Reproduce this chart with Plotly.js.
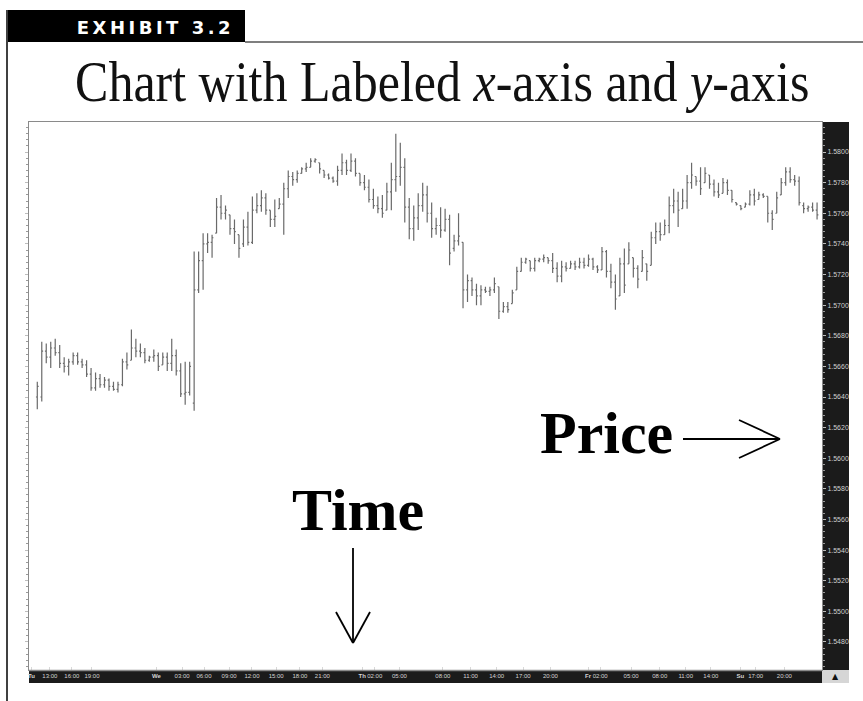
<!DOCTYPE html>
<html>
<head>
<meta charset="utf-8">
<script src="https://cdn.plot.ly/plotly-3.0.1.min.js"></script>
<style>
  html, body { margin: 0; padding: 0; background: #fff; }
  #chart { width: 863px; height: 701px; }
</style>
</head>
<body>
<div id="chart"></div>
<script>
// ---- data ----
const openPrices = [
  1.5640,1.5640,1.5670,1.5666,1.5672,1.5669,1.5662,1.5660,1.5663,1.5667,
  1.5663,1.5661,1.5655,1.5646,1.5652,1.5648,1.5651,1.5647,1.5645,1.5648,
  1.5663,1.5664,1.5672,1.5670,1.5669,1.5664,1.5666,1.5667,1.5661,1.5666,
  1.5662,1.5667,1.5657,1.5642,1.5643,1.5636,1.5710,1.5729,1.5740,1.5741,
  1.5747,1.5764,1.5760,1.5759,1.5750,1.5746,1.5740,1.5751,1.5741,1.5762,
  1.5765,1.5770,1.5762,1.5756,1.5763,1.5766,1.5776,1.5784,1.5782,1.5786,
  1.5789,1.5790,1.5794,1.5793,1.5788,1.5785,1.5783,1.5781,1.5788,1.5793,
  1.5788,1.5794,1.5786,1.5780,1.5777,1.5769,1.5765,1.5763,1.5762,1.5774,
  1.5782,1.5784,1.5790,1.5764,1.5750,1.5757,1.5765,1.5772,1.5760,1.5750,
  1.5752,1.5749,1.5756,1.5737,1.5742,1.5741,1.5710,1.5716,1.5710,1.5706,
  1.5710,1.5709,1.5710,1.5712,1.5696,1.5699,1.5701,1.5710,1.5722,1.5728,
  1.5729,1.5724,1.5729,1.5730,1.5731,1.5729,1.5724,1.5719,1.5725,1.5724,
  1.5727,1.5725,1.5728,1.5726,1.5730,1.5725,1.5723,1.5735,1.5722,1.5715,
  1.5706,1.5727,1.5727,1.5731,1.5724,1.5722,1.5727,1.5726,1.5744,1.5748,
  1.5746,1.5752,1.5765,1.5768,1.5763,1.5768,1.5780,1.5784,1.5781,1.5780,
  1.5785,1.5779,1.5774,1.5773,1.5780,1.5775,1.5767,1.5765,1.5764,1.5766,
  1.5772,1.5769,1.5772,1.5771,1.5760,1.5760,1.5772,1.5780,1.5787,1.5782,
  1.5781,1.5765,1.5763,1.5764,1.5762
];
const highPrices = [
  1.5650,1.5676,1.5675,1.5676,1.5678,1.5674,1.5666,1.5665,1.5669,1.5669,
  1.5665,1.5664,1.5659,1.5656,1.5655,1.5653,1.5652,1.5650,1.5650,1.5665,
  1.5669,1.5684,1.5678,1.5675,1.5672,1.5667,1.5671,1.5669,1.5669,1.5669,
  1.5678,1.5671,1.5662,1.5663,1.5663,1.5735,1.5735,1.5747,1.5747,1.5746,
  1.5770,1.5772,1.5765,1.5759,1.5756,1.5746,1.5756,1.5761,1.5771,1.5773,
  1.5775,1.5773,1.5762,1.5769,1.5770,1.5780,1.5788,1.5787,1.5788,1.5790,
  1.5793,1.5796,1.5796,1.5793,1.5788,1.5786,1.5784,1.5791,1.5799,1.5795,
  1.5799,1.5796,1.5786,1.5785,1.5782,1.5776,1.5771,1.5772,1.5780,1.5793,
  1.5812,1.5806,1.5796,1.5770,1.5765,1.5773,1.5780,1.5778,1.5767,1.5757,
  1.5764,1.5763,1.5759,1.5746,1.5760,1.5741,1.5720,1.5718,1.5714,1.5713,
  1.5712,1.5712,1.5718,1.5712,1.5702,1.5702,1.5710,1.5725,1.5731,1.5731,
  1.5729,1.5731,1.5731,1.5733,1.5731,1.5734,1.5728,1.5729,1.5728,1.5729,
  1.5729,1.5731,1.5731,1.5733,1.5731,1.5726,1.5738,1.5736,1.5727,1.5720,
  1.5731,1.5737,1.5741,1.5731,1.5726,1.5736,1.5727,1.5748,1.5754,1.5754,
  1.5756,1.5771,1.5776,1.5774,1.5776,1.5785,1.5793,1.5784,1.5790,1.5790,
  1.5785,1.5782,1.5780,1.5783,1.5782,1.5775,1.5767,1.5765,1.5767,1.5775,
  1.5776,1.5774,1.5773,1.5771,1.5762,1.5774,1.5783,1.5790,1.5790,1.5785,
  1.5784,1.5767,1.5765,1.5767,1.5767
];
const lowPrices = [
  1.5632,1.5637,1.5662,1.5659,1.5667,1.5659,1.5656,1.5654,1.5661,1.5661,
  1.5659,1.5653,1.5644,1.5644,1.5646,1.5646,1.5644,1.5644,1.5643,1.5647,
  1.5658,1.5664,1.5666,1.5666,1.5662,1.5663,1.5663,1.5657,1.5661,1.5657,
  1.5657,1.5654,1.5640,1.5635,1.5641,1.5631,1.5708,1.5710,1.5734,1.5731,
  1.5747,1.5756,1.5756,1.5746,1.5740,1.5731,1.5738,1.5739,1.5740,1.5760,
  1.5761,1.5759,1.5751,1.5751,1.5763,1.5746,1.5770,1.5778,1.5780,1.5786,
  1.5787,1.5790,1.5793,1.5786,1.5783,1.5782,1.5780,1.5778,1.5785,1.5785,
  1.5787,1.5784,1.5778,1.5775,1.5767,1.5763,1.5760,1.5757,1.5762,1.5762,
  1.5774,1.5778,1.5754,1.5743,1.5742,1.5749,1.5761,1.5754,1.5744,1.5746,
  1.5744,1.5748,1.5726,1.5735,1.5739,1.5698,1.5702,1.5706,1.5700,1.5700,
  1.5708,1.5706,1.5708,1.5691,1.5695,1.5695,1.5701,1.5710,1.5722,1.5727,
  1.5722,1.5722,1.5728,1.5728,1.5727,1.5721,1.5715,1.5715,1.5722,1.5724,
  1.5723,1.5724,1.5724,1.5725,1.5723,1.5721,1.5723,1.5718,1.5711,1.5697,
  1.5706,1.5708,1.5727,1.5718,1.5711,1.5722,1.5716,1.5726,1.5740,1.5742,
  1.5746,1.5747,1.5760,1.5751,1.5763,1.5763,1.5776,1.5778,1.5772,1.5780,
  1.5776,1.5771,1.5770,1.5773,1.5772,1.5767,1.5765,1.5762,1.5764,1.5765,
  1.5765,1.5769,1.5770,1.5754,1.5749,1.5760,1.5772,1.5778,1.5780,1.5778,
  1.5765,1.5760,1.5761,1.5761,1.5756
];
const closePrices = [
  1.5647,1.5670,1.5666,1.5672,1.5669,1.5662,1.5660,1.5663,1.5667,1.5663,
  1.5661,1.5655,1.5646,1.5652,1.5648,1.5651,1.5647,1.5645,1.5648,1.5663,
  1.5661,1.5672,1.5670,1.5669,1.5664,1.5666,1.5667,1.5660,1.5666,1.5662,
  1.5667,1.5657,1.5642,1.5643,1.5660,1.5710,1.5729,1.5740,1.5741,1.5744,
  1.5764,1.5760,1.5762,1.5750,1.5748,1.5737,1.5751,1.5741,1.5762,1.5765,
  1.5770,1.5762,1.5756,1.5758,1.5766,1.5776,1.5784,1.5782,1.5786,1.5789,
  1.5790,1.5794,1.5795,1.5789,1.5785,1.5783,1.5781,1.5788,1.5793,1.5788,
  1.5794,1.5786,1.5780,1.5777,1.5769,1.5765,1.5763,1.5760,1.5774,1.5782,
  1.5784,1.5790,1.5764,1.5750,1.5757,1.5765,1.5772,1.5760,1.5750,1.5752,
  1.5749,1.5756,1.5734,1.5742,1.5745,1.5710,1.5716,1.5710,1.5706,1.5710,
  1.5709,1.5710,1.5714,1.5696,1.5699,1.5697,1.5708,1.5722,1.5728,1.5730,
  1.5724,1.5729,1.5730,1.5731,1.5729,1.5724,1.5719,1.5725,1.5724,1.5727,
  1.5725,1.5728,1.5726,1.5730,1.5725,1.5723,1.5735,1.5722,1.5715,1.5704,
  1.5727,1.5713,1.5736,1.5724,1.5717,1.5731,1.5722,1.5744,1.5748,1.5746,
  1.5752,1.5765,1.5768,1.5762,1.5768,1.5780,1.5785,1.5781,1.5776,1.5786,
  1.5779,1.5774,1.5772,1.5780,1.5775,1.5769,1.5766,1.5763,1.5766,1.5772,
  1.5768,1.5772,1.5771,1.5760,1.5756,1.5770,1.5780,1.5787,1.5782,1.5781,
  1.5767,1.5763,1.5764,1.5762,1.5759
];
const xTickLabels = ["<b>Tu</b>","13:00","16:00","19:00","<b>We</b>","03:00","06:00","09:00","12:00","15:00","18:00","21:00",
  "<b>Th</b>","02:00","05:00","08:00","11:00","14:00","17:00","20:00","<b>Fr</b>","02:00","05:00","08:00","11:00","14:00",
  "<b>Su</b>","17:00","20:00"];
const xTickBars = [-1.3,2.8,7.7,12.2,26.6,32.3,37.2,42.8,47.9,53.3,58.6,63.6,
  72.5,75.3,80.8,90.5,96.7,102.5,108.4,114.5,122.9,125.6,132.5,138.9,144.7,150.3,
  156.9,160.3,166.7];
const chartTitle = "Chart with Labeled <i>x</i>-axis and <i>y</i>-axis";
const exhibitLabel = "EXHIBIT 3.2";
const priceLabel = "Price";
const timeLabel = "Time";

// ---- layout helpers: page pixels -> paper coordinates ----
const W = 863, H = 701;
const M = {l: 29, r: 863 - 822, t: 122, b: 701 - 670};
const PW = W - M.l - M.r, PH = H - M.t - M.b;
const px = x => (x - M.l) / PW;
const py = y => (H - M.b - y) / PH;

const barIndex = openPrices.map((_, i) => i);

const trace = {
  type: 'ohlc',
  x: barIndex,
  open: openPrices, high: highPrices, low: lowPrices, close: closePrices,
  increasing: {line: {color: '#6a6a6a', width: 1.2}},
  decreasing: {line: {color: '#6a6a6a', width: 1.2}},
  tickwidth: 0.3,
  hoverinfo: 'skip',
  showlegend: false
};

const line = (x0, y0, x1, y1, w, c) => ({
  type: 'line', xref: 'paper', yref: 'paper',
  x0: px(x0), y0: py(y0), x1: px(x1), y1: py(y1),
  line: {color: c || '#000', width: w || 2}
});
const rect = (x0, y0, x1, y1, fill, layer) => ({
  type: 'rect', xref: 'paper', yref: 'paper', layer: layer || 'below',
  x0: px(x0), y0: py(y0), x1: px(x1), y1: py(y1),
  fillcolor: fill, line: {width: 0}
});

const shapes = [
  rect(8, 10, 245, 42, '#000'),
  line(7, 10, 7, 701, 1.5),
  line(245, 42, 863, 42, 1.2),
  rect(822, 122, 849, 670, '#1b1b1b'),
  rect(29, 670, 822, 683, '#1b1b1b'),
  line(29, 670.5, 822, 670.5, 1.5, '#8a8a8a'),
  rect(822, 670, 849, 683, '#d6d6d6'),
  // Price arrow
  line(683, 439, 780, 439, 1.8),
  line(739, 420, 780, 439, 1.8),
  line(739, 458, 780, 439, 1.8),
  // Time arrow
  line(353, 548, 353, 643, 1.8),
  line(336, 612, 353, 643, 1.8),
  line(370, 612, 353, 643, 1.8)
];

const ann = (text, x, y, font, extra) => Object.assign({
  text, xref: 'paper', yref: 'paper', x: px(x), y: py(y),
  xanchor: 'center', yanchor: 'middle', showarrow: false, font
}, extra || {});

const annotations = [
  ann(exhibitLabel, 155, 27, {family: 'DejaVu Sans', size: 18, color: '#fff', weight: 'bold'}),
  ann(chartTitle, 442, 84, {family: 'Liberation Serif', size: 50, color: '#111'}),
  ann('<b>' + priceLabel + '</b>', 606, 433, {family: 'Liberation Serif', size: 60, color: '#000'}),
  ann('<b>' + timeLabel + '</b>', 358, 510, {family: 'Liberation Serif', size: 60, color: '#000'}),
  ann('▲', 835, 676.5, {family: 'DejaVu Sans', size: 8, color: '#111'})
];

const layout = {
  width: W, height: H,
  margin: M,
  paper_bgcolor: '#fff', plot_bgcolor: '#fff',
  showlegend: false,
  dragmode: false,
  xaxis: {
    range: [-1.85, 175.1],
    tickmode: 'array', tickvals: xTickBars, ticktext: xTickLabels,
    tickangle: 0,
    ticks: 'inside', ticklen: 3, tickcolor: '#d8d8d8', tickwidth: 1,
    tickfont: {family: 'Liberation Sans', size: 6, color: '#d4d4d4'},
    ticklabelstandoff: 0,
    showgrid: false, zeroline: false,
    showline: true, linecolor: '#8a8a8a', linewidth: 1, mirror: true,
    rangeslider: {visible: false},
    fixedrange: true
  },
  yaxis: {
    side: 'right',
    range: [1.54617, 1.58196],
    tickmode: 'linear', tick0: 1.548, dtick: 0.002, tickformat: '.4f',
    ticks: 'outside', ticklen: 3, tickcolor: '#bdbdbd', tickwidth: 1,
    minor: {tick0: 1.548, dtick: 0.0004, ticks: 'outside', ticklen: 2, tickcolor: '#9a9a9a', showgrid: false},
    tickfont: {family: 'Liberation Sans', size: 7, color: '#d0d0d0'},
    showgrid: false, zeroline: false,
    showline: true, linecolor: '#8a8a8a', linewidth: 1, mirror: 'ticks',
    fixedrange: true
  },
  shapes, annotations
};

Plotly.newPlot('chart', [trace], layout, {displayModeBar: false, staticPlot: true}).then(() => {
  document.querySelectorAll('.annotation-text').forEach(t => {
    if (t.textContent === exhibitLabel) t.style.letterSpacing = '3.5px';
    if (t.textContent.indexOf('Chart with') === 0) {
      const s = 1.14;
      const y = parseFloat(t.getAttribute('y')) || 0;
      t.setAttribute('transform', 'translate(0 ' + (y * (1 - s)) + ') scale(1 ' + s + ')');
    }
  });
});
</script>
</body>
</html>
